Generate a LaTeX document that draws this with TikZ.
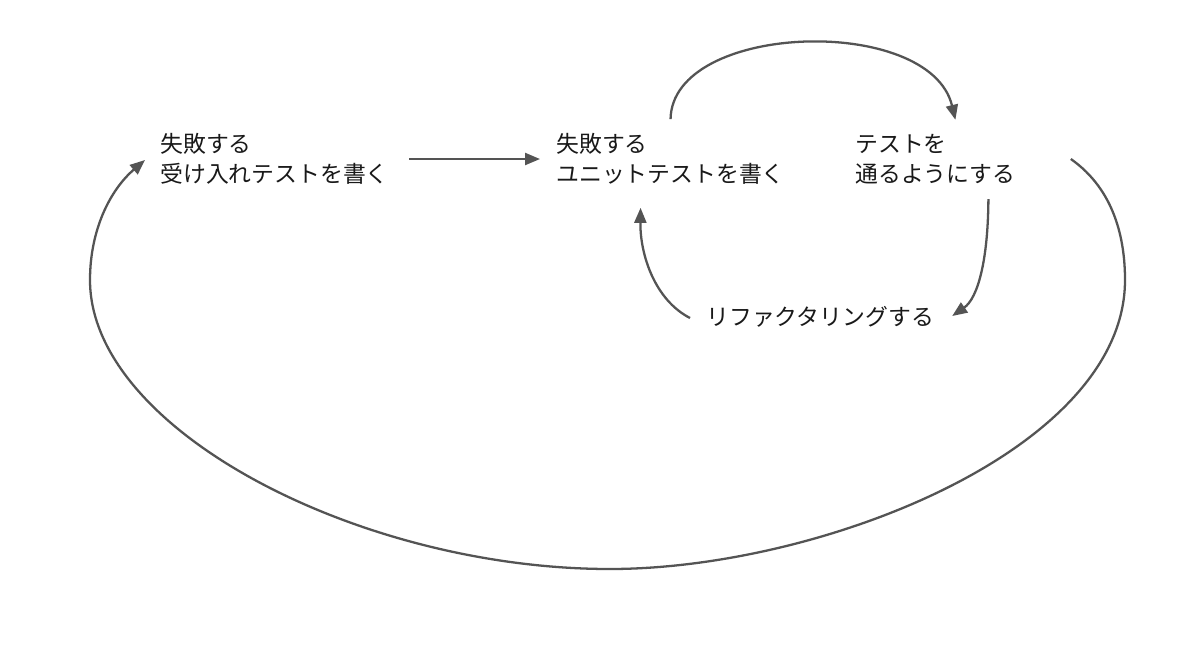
\documentclass[tikz,border=0pt]{standalone}
\usepackage{fontspec}
\setmainfont{Noto Sans CJK JP}
\usetikzlibrary{arrows.meta,calc}
\begin{document}
\begin{tikzpicture}[x=0.02cm,y=-0.02cm,
  lbl/.style={inner sep=0pt,align=left,anchor=west,text=black!90,font=\fontsize{13}{17}\selectfont},
  conn/.style={draw=black!67,line width=1.3pt,-{Triangle[length=0.3cm,width=0.24cm]}}]
\useasboundingbox[fill=white] (0,0) rectangle (1200,667);
\node[lbl] (A) at (160,159) {失敗する\\受け入れテストを書く};
\node[lbl] (B) at (556,159) {失敗する\\ユニットテストを書く};
\node[lbl] (C) at (855,159) {テストを\\通るようにする};
\node[lbl] (D) at (706,317) {リファクタリングする};
% A -> B
\draw[conn] ($(A.east)+(20,0)$) -- ($(B.west)+(-16,0)$);
% B -> C
\draw[conn] ($(B.north)+(0,-14)$) .. controls (672,22) and (930,14) .. ($(C.north)+(20,-14)$);
% C -> D
\draw[conn] ($(C.south)+(53,15)$) .. controls (988,260) and (978,298) .. ($(D.east)+(18,-1)$);
% D -> B
\draw[conn] ($(D.west)+(-16,1)$) .. controls (655,300) and (640,255) .. ($(B.south)+(-30,23)$);
% C -> A (big loop)
\coordinate (loopR) at (1125,280);
\coordinate (loopB) at (610,569);
\coordinate (loopL) at (90,280);
\draw[conn] ($(C.east)+(55,0)$) .. controls (1115,190) and (1125,240) .. (loopR)
  .. controls (1125,450) and (820,569) .. (loopB)
  .. controls (360,569) and (90,430) .. (loopL)
  .. controls (90,230) and (110,190) .. ($(A.west)+(-15,1)$);
\end{tikzpicture}
\end{document}
